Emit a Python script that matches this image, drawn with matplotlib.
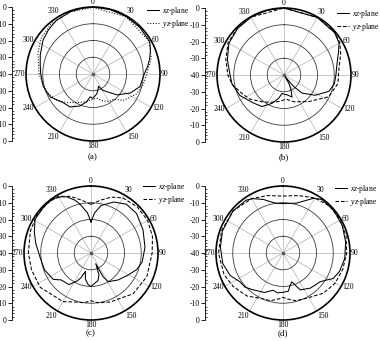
import numpy as np
import matplotlib
matplotlib.use('Agg')
import matplotlib.pyplot as plt
from matplotlib.ticker import MultipleLocator

plt.rcParams['font.family'] = ['Liberation Serif', 'DejaVu Serif']
plt.rcParams['mathtext.fontset'] = 'custom'
plt.rcParams['mathtext.rm'] = 'Liberation Serif'
plt.rcParams['mathtext.it'] = 'Liberation Serif:italic'

# --- data: (angle deg, gain dB) ---
ang_a_xz = [0, 15, 30, 45, 60, 67, 75, 82, 90, 105, 117, 131, 142, 150, 156, 163, 169, 175, 181, 187, 193, 202, 215, 226, 242, 256, 270, 280, 290, 304, 315, 326, 340, 350]
db_a_xz = [0, -0.2, -0.4, -0.6, -1, -2.7, -5, -7, -9.4, -11, -15, -21, -26.6, -29, -32, -30, -28, -26.8, -25.5, -26.3, -23, -19.4, -16, -15.3, -11, -9.4, -8.8, -8, -6.5, -4, -2.5, -1.2, -0.5, -0.2]
ang_a_yz = [0, 30, 60, 75, 90, 102, 115, 122, 131, 141, 150, 160, 171, 180, 193, 207, 222, 235, 250, 270, 290, 304, 320, 340]
db_a_yz = [-0.3, -0.5, -1.2, -4, -8, -9.3, -11.5, -13.9, -16, -20.6, -21, -23, -25.3, -25, -23, -21, -17, -13, -10, -7.8, -5, -2.4, -1, -0.5]

ang_b_xz = [0, 30, 50, 60, 68, 80, 90, 100, 110, 123, 135, 140, 146, 150, 155, 160, 171, 180, 186, 193, 203, 215, 229, 245, 260, 270, 285, 300, 315, 330, 345]
db_b_xz = [0, -0.3, -0.6, -2, -5, -8, -9, -9.5, -11.5, -17.8, -24.7, -31, -39, -34, -30, -26, -28, -28.5, -29, -25.7, -21.6, -17, -15, -11, -8.5, -7.8, -5, -2, -0.8, -0.3, 0]
ang_b_yz = [0, 30, 50, 60, 70, 80, 90, 99, 116, 137, 160, 175, 190, 205, 219, 235, 246, 260, 270, 285, 300, 315, 330]
db_b_yz = [0, -0.3, -0.5, -1.5, -4, -6.5, -7.5, -7.4, -10.3, -18.3, -23, -25.5, -24, -22, -19.4, -15, -12.6, -8.5, -6.5, -4, -1.5, -0.5, -0.2]

ang_c_xz = [0, 5, 12, 24, 36, 49, 66, 84, 100, 110, 121, 135, 149, 153, 156, 160, 166, 173, 180, 185, 192, 197, 202, 207, 215, 228, 235, 250, 265, 280, 290, 301, 315, 325, 332, 337, 343, 347, 355]
db_c_xz = [-21.5, -16, -11, -6.7, -4, -4, -6, -7.6, -9, -11, -14.3, -17.2, -20, -24, -33, -26, -23, -21.8, -20, -21, -24, -28.5, -24, -21, -17, -16, -12.5, -10.5, -9.5, -6.5, -4, -1, -0.5, -0.5, -2, -3.6, -7, -9.8, -16]
ang_c_yz = [0, 10, 20, 30, 45, 60, 75, 90, 113, 134, 159, 172, 180, 188, 196, 210, 236, 254, 270, 290, 305, 320, 330, 340, 350]
db_c_yz = [-11, -8, -4.5, -2, -1, -1, -2, -3.5, -3.8, -5, -8.6, -10, -11.5, -10, -9.5, -6.5, -3.4, -3.1, -2.6, -1.5, -0.5, -0.5, -1, -4, -8]

ang_d_xz = [0, 15, 29, 36, 50, 65, 80, 95, 108, 117, 123, 128, 142, 155, 163, 168, 172, 180, 188, 195, 205, 219, 228, 236, 247, 260, 275, 290, 310, 325, 331, 340, 346, 352]
db_d_xz = [-10.5, -9.2, -2.7, -0.5, -0.5, -1, -2, -3, -4.5, -6.4, -10, -12, -13.4, -15.7, -22, -20, -17, -16.5, -16, -17, -14, -11.7, -9.5, -9.1, -5.7, -3.5, -2.5, -1.5, -1, -1.5, -2.9, -6, -8.4, -10]
ang_d_yz = [0, 15, 30, 45, 60, 75, 90, 105, 120, 135, 152, 165, 175, 180, 185, 195, 205, 220, 236, 250, 270, 290, 310, 330, 345]
db_d_yz = [-6, -4.5, -2, -0.5, -0.5, -1, -2, -3, -4, -6, -9.5, -10.5, -12.5, -13.5, -12.5, -10.5, -10, -6.5, -4.2, -2.5, -1.5, -1, -1, -2.5, -4.5]

panels = [
    ('(a)', ang_a_xz, db_a_xz, ang_a_yz, db_a_yz, ':'),
    ('(b)', ang_b_xz, db_b_xz, ang_b_yz, db_b_yz, (0, (3.5, 1.8))),
    ('(c)', ang_c_xz, db_c_xz, ang_c_yz, db_c_yz, (0, (3.5, 1.8))),
    ('(d)', ang_d_xz, db_d_xz, ang_d_yz, db_d_yz, (0, (3.5, 1.8))),
]

# pixel layout: polar centre, left scale x, legend origin, caption y
W, H = 380, 341
R = 67
layout = [
    ((93, 74), 12, (147, 5), 157),
    ((284, 75), 205, (337, 8), 157),
    ((91, 253), 12, (143, 181), 333),
    ((283, 253), 205, (335, 183), 333),
]

theta_ticks = np.arange(0, 360, 30)
scale_labels = ['0', '-10', '-20', '-30', '-40', '-30', '-20', '-10', '0']

fig = plt.figure(figsize=(W / 100, H / 100), dpi=100)

for (cap, axz, dxz, ayz, dyz, ls), ((cx, cy), sx, (lx, ly), capy) in zip(panels, layout):
    ax = fig.add_axes([(cx - R) / W, 1 - (cy + R) / H, 2 * R / W, 2 * R / H],
                      projection='polar')
    ax.set_theta_zero_location('N')
    ax.set_theta_direction(-1)
    ax.set_ylim(-40, 0)
    ax.set_yticks([-30, -20, -10])
    ax.set_yticklabels([])
    ax.set_xticks(np.deg2rad(theta_ticks))
    ax.set_xticklabels([])
    ax.xaxis.grid(True, color='#b0b0b0', lw=0.5)
    ax.yaxis.grid(True, color='#3a3a3a', lw=0.6)
    ax.spines['polar'].set_linewidth(1.2)

    # angle labels hugging the outer ring
    for t in theta_ticks:
        s, c = np.sin(np.deg2rad(t)), np.cos(np.deg2rad(t))
        ha = 'left' if s > 0.1 else ('right' if s < -0.1 else 'center')
        va = 'bottom' if c > 0.6 else ('top' if c < -0.6 else 'center')
        ax.text(np.deg2rad(t), 0.6, str(t), ha=ha, va=va, fontsize=5.5,
                clip_on=False)

    t1 = np.deg2rad(axz + [axz[0]])
    t2 = np.deg2rad(ayz + [ayz[0]])
    l1, = ax.plot(t1, dxz + [dxz[0]], color='black', lw=0.75, label=r'$xz$-plane')
    l2, = ax.plot(t2, dyz + [dyz[0]], color='black', lw=0.75, ls=ls, label=r'$yz$-plane')
    ax.plot([0], [-40], marker='o', ms=1.5, color='#555555')

    fig.legend(handles=[l1, l2], loc='upper left',
               bbox_to_anchor=(lx / W, 1 - ly / H), frameon=False,
               fontsize=5.5, handlelength=1.6, handletextpad=0.3,
               labelspacing=0.15, borderpad=0, borderaxespad=0)

    # linear dB scale to the left of the polar plot
    sc = fig.add_axes([sx / W, 1 - (cy + R) / H, 0.001, 2 * R / H])
    sc.set_ylim(80, 0)
    sc.set_xticks([])
    sc.yaxis.set_major_locator(MultipleLocator(10))
    sc.yaxis.set_minor_locator(MultipleLocator(2))
    sc.set_yticks(np.arange(0, 81, 10))
    sc.set_yticklabels(scale_labels, fontsize=5.5)
    sc.tick_params(axis='y', which='major', length=3, width=0.6, pad=1)
    sc.tick_params(axis='y', which='minor', length=1.5, width=0.5, direction='in')
    for s in ['top', 'right', 'bottom']:
        sc.spines[s].set_visible(False)
    sc.spines['left'].set_linewidth(0.6)
    sc.patch.set_visible(False)

    fig.text(cx / W, 1 - capy / H, cap, ha='center', va='center', fontsize=6.5)

fig.savefig('out.png', dpi=100)
